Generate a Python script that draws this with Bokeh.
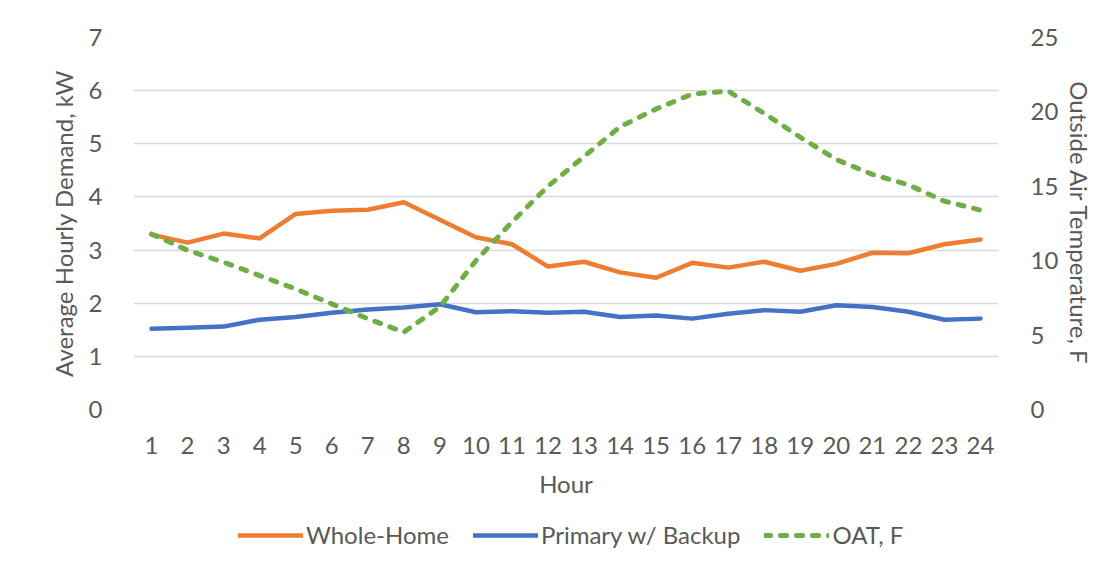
import numpy as np
from bokeh.plotting import figure
from bokeh.layouts import column
from bokeh.models import Range1d, LinearAxis, Legend, LegendItem, FixedTicker
from bokeh.embed import file_html
from bokeh.resources import INLINE

hours = list(range(1, 25))
whole_home = [3.29, 3.14, 3.31, 3.22, 3.68, 3.74, 3.76, 3.90, 3.57, 3.24, 3.11, 2.69,
              2.78, 2.58, 2.48, 2.76, 2.67, 2.78, 2.61, 2.74, 2.95, 2.94, 3.11, 3.20]
primary_backup = [1.52, 1.54, 1.56, 1.69, 1.74, 1.82, 1.88, 1.92, 1.98, 1.83, 1.85, 1.82,
                  1.84, 1.74, 1.77, 1.71, 1.80, 1.87, 1.84, 1.96, 1.93, 1.84, 1.69, 1.71]
oat_f = [11.8, 10.7, 9.9, 9.0, 8.1, 7.1, 6.1, 5.2, 6.9, 10.0, 12.6, 15.0,
         17.0, 19.0, 20.2, 21.2, 21.4, 19.9, 18.3, 16.8, 15.8, 15.1, 14.0, 13.4]
left_ticks = [0, 1, 2, 3, 4, 5, 6, 7]
right_ticks = [0, 5, 10, 15, 20, 25]
series_names = ["Whole-Home", "Primary w/ Backup", "OAT, F"]

FONT = "Lato"
TXT = "#595959"
FS = "24px"
C_ORANGE, C_BLUE, C_GREEN = "#ED7D31", "#4472C4", "#70AD47"
DASH = "6 10"

W = 1097
H_MAIN = 509
H_LEG = 558 - H_MAIN

p = figure(width=W, height=H_MAIN, output_backend="svg", toolbar_location=None,
           x_range=Range1d(0.5, 24.5), y_range=Range1d(0, 7),
           min_border_left=133, min_border_right=95, min_border_top=37, min_border_bottom=H_MAIN - 409)
p.outline_line_color = None
p.background_fill_color = "white"
p.border_fill_color = "white"
p.extra_y_ranges = {"oat": Range1d(0, 25)}

p.xgrid.grid_line_color = None
p.ygrid.grid_line_color = "#D9D9D9"
p.ygrid.grid_line_width = 1.5
p.ygrid.ticker = FixedTicker(ticks=left_ticks)

def style_axis(ax):
    ax.axis_line_color = None
    ax.major_tick_line_color = None
    ax.minor_tick_line_color = None
    ax.major_label_text_font = FONT
    ax.major_label_text_font_size = FS
    ax.major_label_text_color = TXT
    ax.axis_label_text_font = FONT
    ax.axis_label_text_font_size = FS
    ax.axis_label_text_color = TXT
    ax.axis_label_text_font_style = "normal"

xa = p.xaxis[0]
xa.ticker = FixedTicker(ticks=hours)
xa.axis_label = "Hour"
style_axis(xa)
xa.major_label_standoff = 21
xa.axis_label_standoff = 12

ya = p.yaxis[0]
ya.ticker = FixedTicker(ticks=left_ticks)
ya.axis_label = "Average Hourly Demand, kW"
style_axis(ya)
ya.major_label_standoff = 25
ya.axis_label_standoff = 8

ra = LinearAxis(y_range_name="oat", ticker=FixedTicker(ticks=right_ticks),
                axis_label="Outside Air Temperature, F")
style_axis(ra)
ra.major_label_standoff = 26
ra.axis_label_standoff = 4
p.add_layout(ra, "right")

p.line(hours, whole_home, line_color=C_ORANGE, line_width=4.5, line_join="round", line_cap="round")
p.line(hours, primary_backup, line_color=C_BLUE, line_width=4.5, line_join="round", line_cap="round")
p.line(hours, oat_f, y_range_name="oat", line_color=C_GREEN, line_width=5,
       line_dash=DASH, line_cap="round", line_join="round")

# legend strip below the chart (its frame is aligned with the chart frame by the column layout)
pl = figure(width=W, height=H_LEG, output_backend="svg", toolbar_location=None,
            x_range=Range1d(0, 1), y_range=Range1d(0, 1),
            x_axis_type=None, y_axis_type=None,
            min_border_left=0, min_border_right=0, min_border_top=0, min_border_bottom=0)
pl.outline_line_color = None
pl.grid.grid_line_color = None
pl.background_fill_color = "white"
pl.border_fill_color = "white"
nan = [np.nan]
g1 = pl.line(nan, nan, line_color=C_ORANGE, line_width=4.5, line_cap="round")
g2 = pl.line(nan, nan, line_color=C_BLUE, line_width=4.5, line_cap="round")
g3 = pl.line(nan, nan, line_color=C_GREEN, line_width=5, line_dash=DASH, line_cap="round")

legend = Legend(items=[LegendItem(label=series_names[0], renderers=[g1]),
                       LegendItem(label=series_names[1], renderers=[g2]),
                       LegendItem(label=series_names[2], renderers=[g3])],
                orientation="horizontal", location=(105, H_LEG - 40),
                glyph_width=65, glyph_height=24, label_height=24, label_standoff=3,
                spacing=24, padding=0, margin=0,
                border_line_color=None, background_fill_alpha=0,
                label_text_font=FONT, label_text_font_size=FS, label_text_color=TXT)
pl.add_layout(legend, "center")

layout = column(p, pl, spacing=0)
open("out.html", "w").write(file_html(layout, INLINE))
